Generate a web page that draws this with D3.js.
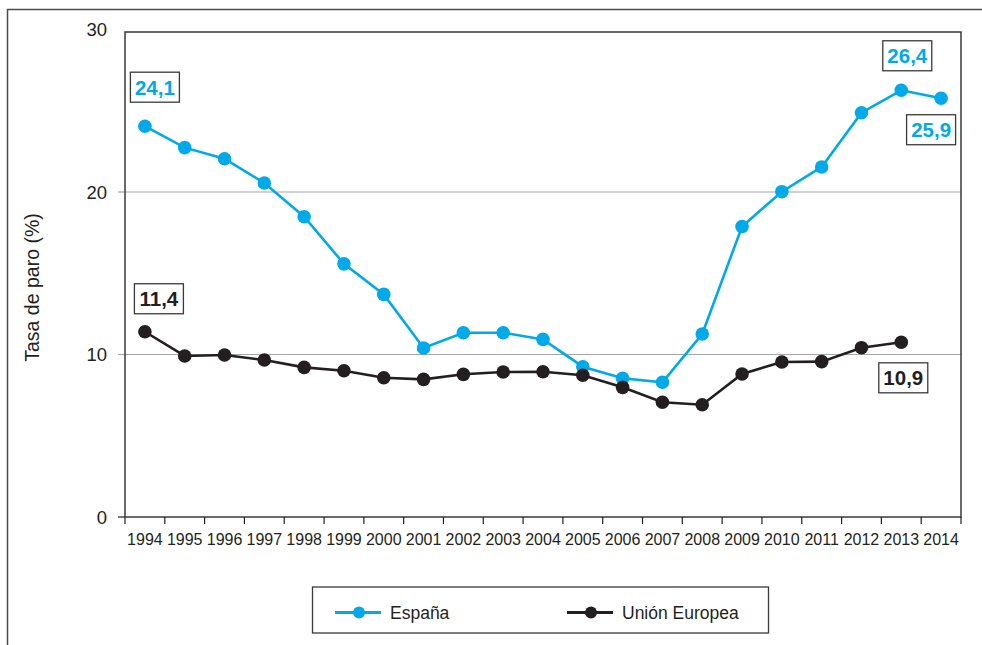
<!DOCTYPE html>
<html>
<head>
<meta charset="utf-8">
<script src="https://cdn.jsdelivr.net/npm/d3@7/dist/d3.min.js"></script>
<style>
  html, body { margin: 0; padding: 0; background: #fff; }
  svg { display: block; }
  text { font-family: "Liberation Sans", Arial, sans-serif; fill: #231f20; }
  .narrow { font-family: "Liberation Sans Narrow", "Arial Narrow", "Liberation Sans", sans-serif; }
</style>
</head>
<body>
<svg id="chart" width="982" height="645"></svg>
<script>
// ---- data ----
const years = ["1994","1995","1996","1997","1998","1999","2000","2001","2002","2003","2004",
               "2005","2006","2007","2008","2009","2010","2011","2012","2013","2014"];
const espana = [24.05, 22.73, 22.05, 20.55, 18.48, 15.58, 13.7, 10.4, 11.34, 11.34, 10.93,
                9.25, 8.54, 8.29, 11.26, 17.88, 20.02, 21.54, 24.88, 26.26, 25.77];
const unionEuropea = [11.4, 9.91, 9.97, 9.66, 9.21, 9.0, 8.57, 8.47, 8.78, 8.92, 8.94,
                      8.72, 7.98, 7.06, 6.91, 8.8, 9.54, 9.56, 10.42, 10.75];
const yTicks = [0, 10, 20, 30];
const seriesNames = ["España", "Unión Europea"];
const yTitle = "Tasa de paro (%)";
// annotation labels: [series index, year, text]
const labels = [
  [0, "1994", "24,1"],
  [0, "2013", "26,4"],
  [0, "2014", "25,9"],
  [1, "1994", "11,4"],
  [1, "2013", "10,9"]
];

// ---- layout / style ----
const colors = ["#00a9e8", "#231f20"];
const plot = { left: 125, right: 961, top: 32, bottom: 517 };
const labelOffsets = [[10, -39], [6, -34.5], [-10, 31.5], [14, -33], [2, 35.5]];

const svg = d3.select("#chart");

const x = d3.scaleBand().domain(years).range([plot.left, plot.right]).padding(0);
const cx = d => x(d) + x.bandwidth() / 2;
const y = d3.scaleLinear().domain([0, 30]).range([plot.bottom, plot.bottom - 30 * 16.25]);

// outer frame (top + left)
svg.append("path")
  .attr("d", `M7.5,645 L7.5,9.5 L982,9.5`)
  .attr("fill", "none").attr("stroke", "#4a4a4a").attr("stroke-width", 1.5);

// gridlines
svg.append("g").selectAll("line").data(yTicks.filter(t => t > 0 && t < 30)).join("line")
  .attr("x1", plot.left).attr("x2", plot.right)
  .attr("y1", d => y(d)).attr("y2", d => y(d))
  .attr("stroke", "#a6a6a6").attr("stroke-width", 1.2);

// y ticks marks
svg.append("g").selectAll("line").data(yTicks.filter(t => t < 30)).join("line")
  .attr("x1", plot.left - 7).attr("x2", plot.left)
  .attr("y1", d => y(d)).attr("y2", d => y(d))
  .attr("stroke", d => d === 0 ? "#231f20" : "#a6a6a6").attr("stroke-width", 1.2);

// y tick labels
svg.append("g").selectAll("text").data(yTicks).join("text")
  .attr("x", 107).attr("y", d => y(d)).attr("dy", "0.36em")
  .attr("text-anchor", "end").attr("font-size", 18.5)
  .text(d => d);

// plot frame
svg.append("rect")
  .attr("x", plot.left).attr("y", plot.top)
  .attr("width", plot.right - plot.left).attr("height", plot.bottom - plot.top)
  .attr("fill", "none").attr("stroke", "#3a3a3a").attr("stroke-width", 1.5);

// x axis
const xAxis = d3.axisBottom(x).tickSize(0).tickPadding(0);
const gx = svg.append("g").attr("transform", `translate(0,${plot.bottom})`).call(xAxis);
gx.select(".domain").remove();
gx.selectAll(".tick text")
  .attr("class", "narrow").attr("y", 28).attr("dy", 0)
  .attr("font-size", 16).attr("font-family", null).style("fill", "#231f20");
// boundary ticks
const bounds = years.map(d => x(d)).concat([plot.right]);
svg.append("g").selectAll("line").data(bounds).join("line")
  .attr("x1", d => d).attr("x2", d => d)
  .attr("y1", plot.bottom).attr("y2", plot.bottom + 7)
  .attr("stroke", "#231f20").attr("stroke-width", 1.2);

// y title
svg.append("text")
  .attr("transform", `translate(38.5,287.5) rotate(-90)`)
  .attr("text-anchor", "middle").attr("font-size", 19.5)
  .text(yTitle);

// series
const allSeries = [espana, unionEuropea];
const line = d3.line().x((d, i) => cx(years[i])).y(d => y(d));
allSeries.forEach((vals, si) => {
  svg.append("path").datum(vals)
    .attr("d", line).attr("fill", "none")
    .attr("stroke", colors[si]).attr("stroke-width", 2.6);
  svg.append("g").selectAll("circle").data(vals).join("circle")
    .attr("cx", (d, i) => cx(years[i])).attr("cy", d => y(d))
    .attr("r", 6.8).attr("fill", colors[si]);
});

// annotation labels
labels.forEach(([si, yr, txt], k) => {
  const i = years.indexOf(yr);
  const px = cx(yr) + labelOffsets[k][0];
  const py = y(allSeries[si][i]) + labelOffsets[k][1];
  const g = svg.append("g");
  g.append("rect")
    .attr("x", px - 24.5).attr("y", py - 15)
    .attr("width", 49).attr("height", 30)
    .attr("fill", "#fff").attr("stroke", "#3a3a3a").attr("stroke-width", 1.3);
  g.append("text")
    .attr("class", "narrow")
    .attr("x", px).attr("y", py).attr("dy", "0.36em")
    .attr("text-anchor", "middle").attr("font-size", 20.5).attr("font-weight", "bold")
    .style("fill", colors[si])
    .text(txt);
});

// legend
svg.append("rect")
  .attr("x", 312.5).attr("y", 587).attr("width", 456).attr("height", 46)
  .attr("fill", "#fff").attr("stroke", "#3a3a3a").attr("stroke-width", 1.3);
const legendX = [335, 567];
seriesNames.forEach((name, si) => {
  const lx = legendX[si], ly = 612.5;
  svg.append("line").attr("x1", lx).attr("x2", lx + 46).attr("y1", ly).attr("y2", ly)
    .attr("stroke", colors[si]).attr("stroke-width", 3);
  svg.append("circle").attr("cx", lx + 24).attr("cy", ly).attr("r", 6).attr("fill", colors[si]);
  svg.append("text").attr("x", lx + 55).attr("y", ly).attr("dy", "0.36em")
    .attr("font-size", 17.5).text(name);
});
</script>
</body>
</html>
